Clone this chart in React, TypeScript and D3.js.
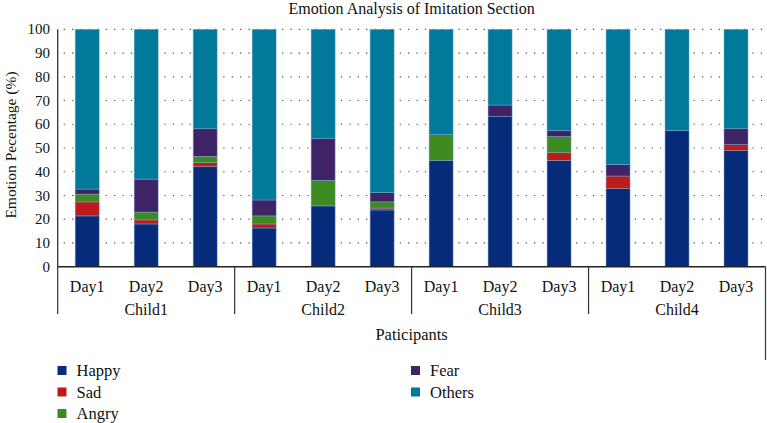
import React from "react";
import * as d3 from "d3";

const children = ["Child1", "Child2", "Child3", "Child4"];
const days = ["Day1", "Day2", "Day3"];
const emotions = ["Happy", "Sad", "Angry", "Fear", "Others"];
const colors = ["#072b7b", "#bd1c1c", "#3d8a20", "#3e2466", "#00799b"];

const happy = [21.4, 18.0, 42.1, 16.3, 25.6, 23.9, 44.7, 63.2, 44.7, 32.9, 57.3, 48.9];
const sad = [5.9, 1.7, 1.7, 1.7, 0, 0.8, 0, 0, 3.3, 5.3, 0, 2.5];
const angry = [3.3, 3.3, 2.7, 3.4, 10.8, 2.6, 10.9, 0, 6.8, 0, 0, 0];
const fear = [2.1, 13.9, 11.6, 6.7, 17.5, 3.9, 0, 4.9, 2.5, 4.8, 0, 6.7];
const others = [67.3, 63.1, 41.9, 71.9, 46.1, 68.8, 44.4, 31.9, 42.7, 57.0, 42.7, 41.9];
const yTicks = [0, 10, 20, 30, 40, 50, 60, 70, 80, 90, 100];

const W = 767;
const H = 423;
const X0 = 57.7;
const X1 = 765.5;
const YT = 29.3;
const YB = 266.7;
const FONT = "'Liberation Serif', 'DejaVu Serif', serif";

export default function App() {
  const keys: string[] = [];
  children.forEach((c) => days.forEach((d) => keys.push(c + "-" + d)));
  const rows = keys.map((k, i) => ({
    key: k,
    Happy: happy[i],
    Sad: sad[i],
    Angry: angry[i],
    Fear: fear[i],
    Others: others[i],
  }));
  const x = d3.scaleBand<string>().domain(keys).range([X0, X1]).paddingInner(0.59).paddingOuter(0.295);
  const y = d3.scaleLinear().domain([0, 100]).range([YB, YT]);
  const series = d3.stack<any>().keys(emotions)(rows as any);
  const step = x.step();
  const groupEdges = d3.range(children.length + 1).map((k) => X0 + k * 3 * step);

  return (
    <svg width={W} height={H} style={{ position: "absolute", left: 0, top: 0, background: "#fff" }} fontFamily={FONT}>
      <text x={(X0 + X1) / 2} y={14} fontSize={16} textAnchor="middle" fill="#111">
        Emotion Analysis of Imitation Section
      </text>
      {yTicks.map((t) => (
        <g key={t}>
          {t > 0 && (
            <line x1={X0 + 6} x2={X1} y1={y(t)} y2={y(t)} stroke="#444" strokeWidth={1.2} strokeDasharray="1.2 7.2" />
          )}
          <text x={50} y={y(t)} dy="0.34em" fontSize={15} textAnchor="end" fill="#111">
            {t}
          </text>
        </g>
      ))}
      {series.map((s, si) => (
        <g key={emotions[si]} fill={colors[si]}>
          {s.map((d: any, i: number) => {
            const h = y(d[0]) - y(d[1]);
            if (h <= 0.01) return null;
            const cx = (x(keys[i]) as number) + x.bandwidth() / 2;
            const bw = 24;
            return (
              <rect key={i} x={cx - bw / 2} y={y(d[1])} width={bw} height={h} stroke="#7fa6c8" strokeWidth={0.6} strokeOpacity={0.8} />
            );
          })}
        </g>
      ))}
      <line x1={X0} x2={X0} y1={YT} y2={YB} stroke="#333" strokeWidth={1.3} />
      <line x1={X0} x2={X1} y1={YB} y2={YB} stroke="#222" strokeWidth={1.5} />
      {groupEdges.map((gx, k) => (
        <line key={k} x1={gx} x2={gx} y1={YB} y2={k === children.length ? 360 : 314} stroke="#333" strokeWidth={1.2} />
      ))}
      {keys.map((k, i) => (
        <text key={k} x={(x(k) as number) + x.bandwidth() / 2} y={287} dy="0.34em" fontSize={16} textAnchor="middle" fill="#111">
          {days[i % 3]}
        </text>
      ))}
      {children.map((c, k) => (
        <text key={c} x={groupEdges[k] + 1.5 * step} y={310} dy="0.34em" fontSize={16} textAnchor="middle" fill="#111">
          {c}
        </text>
      ))}
      <text x={(X0 + X1) / 2} y={334} dy="0.34em" fontSize={16.5} textAnchor="middle" fill="#111">
        Paticipants
      </text>
      <text transform={`translate(11,145) rotate(-90)`} dy="0.34em" fontSize={15.5} textAnchor="middle" fill="#111">
        Emotion Pecentage (%)
      </text>
      {emotions.map((e, i) => {
        const col = i < 3 ? 0 : 1;
        const row = i < 3 ? i : i - 3;
        const lx = col === 0 ? 57.5 : 411;
        const ly = 370.5 + row * 21.5;
        return (
          <g key={e}>
            <rect x={lx} y={ly - 4.5} width={9} height={9} fill={colors[i]} />
            <text x={lx + 19} y={ly} dy="0.34em" fontSize={16.5} fill="#111">
              {e}
            </text>
          </g>
        );
      })}
    </svg>
  );
}
